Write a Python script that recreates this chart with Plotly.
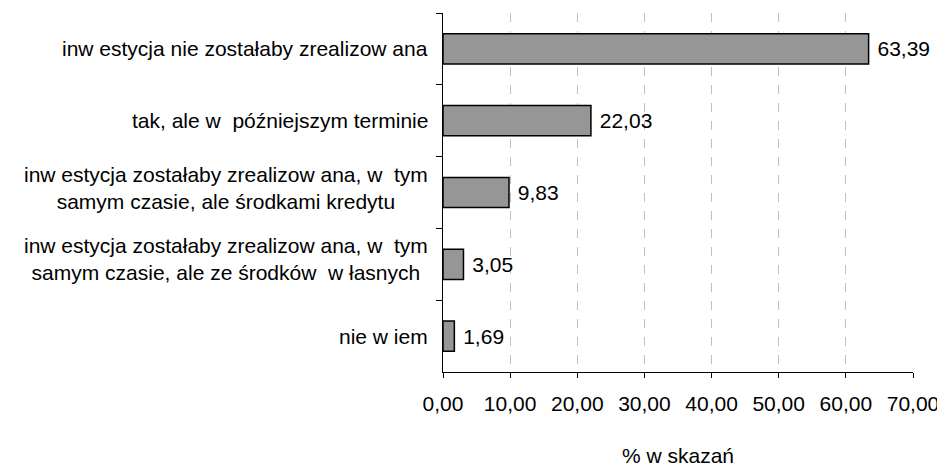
import plotly.graph_objects as go

categories = [
    "inw estycja nie zostałaby zrealizow ana",
    "tak, ale w  późniejszym terminie",
    "inw estycja zostałaby zrealizow ana, w  tym<br>samym czasie, ale środkami kredytu",
    "inw estycja zostałaby zrealizow ana, w  tym<br>samym czasie, ale ze środków  w łasnych",
    "nie w iem",
]
values = [63.39, 22.03, 9.83, 3.05, 1.69]
value_labels = ["63,39", "22,03", "9,83", "3,05", "1,69"]
tick_vals = [0, 10, 20, 30, 40, 50, 60, 70]
tick_text = ["0,00", "10,00", "20,00", "30,00", "40,00", "50,00", "60,00", "70,00"]
x_title = "% w skazań"

FONT = "Liberation Sans, Arial, sans-serif"
FS = 21

fig = go.Figure()
fig.add_trace(go.Bar(
    y=categories, x=values, orientation="h",
    marker=dict(color="#969696", line=dict(color="black", width=1.5)),
    width=0.42,
    text=[" " + t for t in value_labels], textposition="outside", cliponaxis=False,
    textfont=dict(family=FONT, size=FS, color="black"),
))

annotations = [
    dict(x=0, y=c, xref="paper", yref="y", text=c, showarrow=False,
         xanchor="right", xshift=-13, align="center",
         yshift=(5 if "<br>" in c else 0),
         font=dict(family=FONT, size=FS, color="black"))
    for c in categories
]

fig.update_layout(
    width=937, height=465,
    margin=dict(l=435, r=32, t=5, b=101),
    plot_bgcolor="white", paper_bgcolor="white",
    showlegend=False,
    font=dict(family=FONT, size=FS, color="black"),
    annotations=annotations,
    xaxis=dict(
        range=[0, 70], tickvals=tick_vals, ticktext=tick_text,
        showgrid=True, gridcolor="#c0c0c0", griddash="dash", gridwidth=1,
        showline=True, linecolor="black", linewidth=1,
        ticks="outside", ticklen=5, tickcolor="black",
        ticklabelstandoff=8,
        zeroline=False, automargin=False,
        tickfont=dict(family=FONT, size=FS),
        title=dict(text=x_title, standoff=34, font=dict(family=FONT, size=FS)),
    ),
    yaxis=dict(
        type="category", autorange="reversed",
        showticklabels=False, tickson="boundaries",
        ticks="outside", ticklen=6, tickcolor="black",
        showline=True, linecolor="black", linewidth=1,
        showgrid=False, automargin=False,
    ),
)

fig.write_html("out.html")
